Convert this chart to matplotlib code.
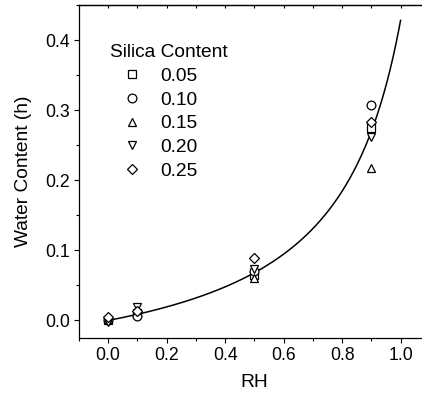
import numpy as np
import matplotlib
matplotlib.use("Agg")
import matplotlib.pyplot as plt
from matplotlib.ticker import MultipleLocator

plt.rcParams["font.family"] = ["Liberation Sans", "DejaVu Sans"]

# measured water content vs relative humidity, one series per silica content
rh = [0.0, 0.1, 0.5, 0.9]
silica = ["0.05", "0.10", "0.15", "0.20", "0.25"]
markers = ["s", "o", "^", "v", "D"]
h_005 = [0.001, 0.010, 0.065, 0.274]
h_010 = [0.000, 0.007, 0.070, 0.307]
h_015 = [0.002, 0.015, 0.061, 0.217]
h_020 = [-0.002, 0.019, 0.073, 0.262]
h_025 = [0.005, 0.013, 0.089, 0.283]
series = [h_005, h_010, h_015, h_020, h_025]

# fitted sorption curve h = A*RH / (1 - K*RH)
fit_A = 0.0809
fit_K = 0.811

fig = plt.figure(figsize=(4.22, 3.96), dpi=100)
ax = fig.add_axes([0.187, 0.1465, 0.8128, 0.841])

x = np.linspace(0, 1.0, 300)
ax.plot(x, fit_A * x / (1 - fit_K * x), color="black", lw=1.1, zorder=2)

for lab, m, h in zip(silica, markers, series):
    ms = 5.3 if m == "D" else 6.3
    ax.plot(rh, h, linestyle="none", marker=m, ms=ms, mfc="white",
            mec="black", mew=0.9, label=lab, zorder=3)

ax.set_xlim(-0.1, 1.073)
ax.set_ylim(-0.025, 0.45)
ax.xaxis.set_major_locator(MultipleLocator(0.2))
ax.xaxis.set_minor_locator(MultipleLocator(0.1))
ax.yaxis.set_major_locator(MultipleLocator(0.1))
ax.yaxis.set_minor_locator(MultipleLocator(0.05))
ax.tick_params(which="major", direction="out", length=3.5, width=0.8,
               labelsize=12.7, pad=3)
ax.tick_params(which="minor", direction="out", length=2.2, width=0.8)
ax.spines["right"].set_visible(False)
for s in ["left", "bottom", "top"]:
    ax.spines[s].set_linewidth(0.9)

top = ax.secondary_xaxis("top")
top.set_xticks(np.arange(0, 1.01, 0.1))
top.tick_params(direction="in", length=2.5, width=0.8, labeltop=False)
top.spines["top"].set_linewidth(0.9)

ax.set_xlabel("RH", fontsize=13.8, va="center")
ax.xaxis.set_label_coords(0.5115, -0.135)
ax.set_ylabel("Water Content (h)", fontsize=13.8, va="center")
ax.yaxis.set_label_coords(-0.162, 0.5)

leg = ax.legend(title="Silica Content", frameon=False, fontsize=13.8,
                title_fontsize=13.8, loc="upper left",
                bbox_to_anchor=(0.079, 0.894), borderaxespad=0,
                handlelength=2.3, handletextpad=0.31, labelspacing=0.33,
                borderpad=0.2, alignment="left")

fig.savefig("out.png", dpi=100)
